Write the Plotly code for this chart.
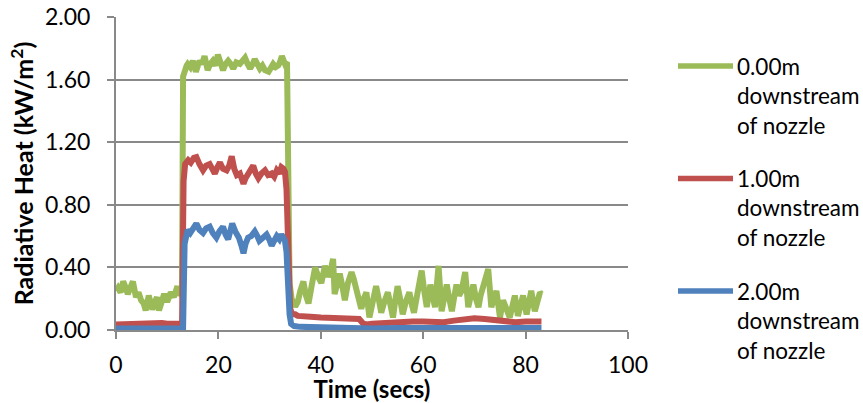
import plotly.graph_objects as go

# ---- data -------------------------------------------------------------
series_names = ["0.00m downstream of nozzle",
                "1.00m downstream of nozzle",
                "2.00m downstream of nozzle"]
series_colors = ["#9BBB59", "#C0504D", "#4F81BD"]

t_0m = [0.0, 0.4, 0.9, 1.4, 1.9, 2.3, 2.8, 3.3, 3.9, 4.4, 4.9, 5.4, 5.8, 6.4, 6.8,
        7.1, 7.6, 8.0, 8.4, 8.9, 9.4, 10.0, 10.7, 11.3, 11.7, 12.0, 12.3, 12.7,
        12.9, 13.1, 13.4, 13.8, 14.0, 14.5, 15.0, 15.6, 16.3, 16.8, 17.3, 17.9,
        18.4, 18.9, 19.4, 19.9, 20.4, 20.9, 21.4, 21.9, 22.4, 22.9, 23.5, 24.2,
        24.7, 25.2, 25.7, 26.2, 26.7, 27.1, 27.6, 28.1, 28.6, 29.1, 29.8, 30.2,
        30.7, 31.2, 31.7, 32.0, 32.4, 33.0, 33.4, 33.9, 34.3, 35.0, 35.5, 36.0,
        36.6, 37.1, 37.6, 38.2, 38.9, 39.5, 40.1, 40.8, 41.4, 41.9, 42.4, 42.7,
        43.2, 43.7, 44.2, 44.7, 45.3, 46.0, 46.4, 46.9, 47.4, 47.9, 48.4, 48.9,
        49.5, 50.1, 50.8, 51.3, 51.8, 52.4, 53.1, 53.6, 54.1, 54.6, 55.0, 55.5,
        56.0, 56.6, 57.3, 57.8, 58.2, 58.8, 59.3, 59.7, 60.2, 60.7, 61.4, 61.9,
        62.3, 62.7, 63.0, 63.6, 64.1, 64.6, 65.1, 65.6, 66.0, 66.5, 67.0, 67.5,
        68.2, 68.8, 69.3, 69.8, 70.3, 70.8, 71.2, 71.7, 72.2, 72.7, 73.3, 73.8,
        74.3, 75.0, 75.6, 76.2, 76.9, 77.4, 77.9, 78.5, 79.0, 79.5, 80.2, 80.6,
        81.1, 81.8, 82.3, 82.8, 83.1]
q_0m = [0.25, 0.27, 0.24, 0.31, 0.27, 0.23, 0.27, 0.31, 0.21, 0.24, 0.19, 0.17,
        0.125, 0.22, 0.17, 0.13, 0.18, 0.21, 0.125, 0.18, 0.23, 0.18, 0.24, 0.21,
        0.25, 0.28, 0.22, 0.25, 0.26, 1.62, 1.67, 1.69, 1.70, 1.68, 1.72, 1.65,
        1.72, 1.70, 1.75, 1.66, 1.70, 1.72, 1.69, 1.76, 1.71, 1.66, 1.70, 1.72,
        1.70, 1.67, 1.71, 1.70, 1.72, 1.74, 1.70, 1.67, 1.70, 1.73, 1.70, 1.67,
        1.69, 1.66, 1.65, 1.68, 1.70, 1.68, 1.69, 1.71, 1.75, 1.70, 1.71, 0.30,
        0.20, 0.15, 0.18, 0.25, 0.31, 0.22, 0.17, 0.28, 0.40, 0.34, 0.30, 0.41,
        0.34, 0.38, 0.455, 0.23, 0.30, 0.36, 0.28, 0.19, 0.30, 0.37, 0.33, 0.27,
        0.20, 0.135, 0.20, 0.24, 0.08, 0.18, 0.28, 0.20, 0.11, 0.18, 0.24, 0.16,
        0.08, 0.20, 0.28, 0.20, 0.10, 0.18, 0.24, 0.16, 0.11, 0.22, 0.30, 0.38,
        0.25, 0.146, 0.29, 0.20, 0.146, 0.30, 0.41, 0.12, 0.22, 0.29, 0.20, 0.12,
        0.20, 0.29, 0.22, 0.25, 0.37, 0.146, 0.22, 0.29, 0.20, 0.146, 0.22, 0.29,
        0.33, 0.39, 0.146, 0.20, 0.25, 0.08, 0.19, 0.14, 0.08, 0.15, 0.22, 0.09,
        0.16, 0.22, 0.10, 0.18, 0.25, 0.12, 0.20, 0.24, 0.23]

t_1m = [0.0, 1.0, 2.0, 3.0, 4.0, 5.0, 6.0, 7.0, 8.0, 9.0, 10.0, 11.0, 12.0, 12.9,
        13.2, 13.5, 14.1, 14.6, 15.2, 15.7, 16.3, 17.0, 17.6, 18.3, 18.8, 19.3,
        19.8, 20.3, 20.9, 21.6, 22.1, 22.6, 23.1, 23.6, 24.2, 24.9, 25.3, 25.8,
        26.3, 26.8, 27.3, 27.8, 28.4, 29.1, 29.7, 30.4, 30.9, 31.4, 31.9, 32.3,
        32.7, 33.0, 33.3, 33.6, 34.0, 34.4, 35.0, 35.5, 36.5, 38.0, 40.0, 42.0,
        44.0, 46.0, 47.5, 48.3, 49.0, 50.0, 52.0, 54.0, 56.0, 58.0, 60.0, 62.0,
        64.0, 66.0, 68.0, 70.0, 72.0, 74.0, 76.0, 78.0, 80.0, 82.0, 83.1]
q_1m = [0.035, 0.037, 0.035, 0.04, 0.04, 0.042, 0.045, 0.043, 0.045, 0.044,
        0.04, 0.042, 0.04, 0.04, 0.95, 1.06, 1.085, 1.07, 1.10, 1.105, 1.06,
        1.02, 1.05, 1.06, 1.03, 1.00, 1.04, 1.07, 1.03, 1.02, 1.05, 1.11, 1.03,
        0.99, 1.00, 0.935, 0.97, 1.00, 1.02, 1.05, 1.00, 0.97, 1.00, 1.02, 0.99,
        1.00, 0.98, 1.02, 1.00, 1.04, 1.03, 1.01, 0.90, 0.40, 0.14, 0.10, 0.10,
        0.09, 0.09, 0.085, 0.08, 0.075, 0.07, 0.065, 0.07, 0.04, 0.035, 0.04,
        0.045, 0.05, 0.05, 0.055, 0.055, 0.05, 0.05, 0.06, 0.07, 0.075, 0.07,
        0.065, 0.055, 0.05, 0.055, 0.055, 0.055]

t_2m = [0.0, 4.0, 8.0, 12.0, 13.1, 13.4, 13.7, 14.0, 14.5, 15.1, 15.7, 16.3, 17.0,
        17.6, 18.3, 18.9, 19.6, 20.2, 20.9, 21.4, 21.9, 22.3, 22.7, 23.3, 24.0,
        24.5, 24.9, 25.3, 25.8, 26.4, 27.1, 27.6, 28.0, 28.7, 29.4, 29.9, 30.4,
        30.9, 31.4, 31.9, 32.3, 32.7, 33.0, 33.3, 33.6, 33.9, 34.2, 34.8, 36.0,
        38.0, 40.0, 45.0, 50.0, 55.0, 60.0, 65.0, 70.0, 75.0, 80.0, 83.1]
q_2m = [0.01, 0.01, 0.01, 0.01, 0.01, 0.55, 0.62, 0.64, 0.62, 0.66, 0.68, 0.64,
        0.62, 0.65, 0.66, 0.62, 0.59, 0.63, 0.66, 0.61, 0.58, 0.63, 0.68, 0.63,
        0.59, 0.54, 0.49, 0.55, 0.59, 0.60, 0.63, 0.60, 0.57, 0.59, 0.61, 0.58,
        0.54, 0.57, 0.60, 0.58, 0.61, 0.59, 0.57, 0.50, 0.25, 0.10, 0.04, 0.025,
        0.02, 0.018, 0.015, 0.012, 0.01, 0.012, 0.012, 0.012, 0.015, 0.012,
        0.012, 0.012]

y_ticks = [0.0, 0.4, 0.8, 1.2, 1.6, 2.0]
x_ticks = [0, 20, 40, 60, 80, 100]

# ---- figure -----------------------------------------------------------
W, H = 863, 403
ML, MR, MT, MB = 116, 235, 17, 73
PW, PH = W - ML - MR, H - MT - MB
FONT = "Lato"
AXIS_GREY = "#898989"


def px_x(px):
    return (px - ML) / PW


def px_y(py):
    return (H - MB - py) / PH


fig = go.Figure()
for t, q, name, color in zip([t_0m, t_1m, t_2m], [q_0m, q_1m, q_2m],
                             series_names, series_colors):
    fig.add_trace(go.Scatter(x=t, y=q, name=name, mode="lines",
                             line=dict(color=color, width=6),
                             showlegend=False))

# legend drawn as wide line samples with wrapped labels
legend_rows = [66, 178.5, 291]
for py, name, color in zip(legend_rows, series_names, series_colors):
    fig.add_shape(type="line", xref="paper", yref="paper",
                  x0=px_x(678), x1=px_x(733), y0=px_y(py), y1=px_y(py),
                  line=dict(color=color, width=5.5))
    head, rest = name.split(" ", 1)
    words = rest.split(" ")
    label = "<br>".join([head, words[0], " ".join(words[1:])])
    fig.add_annotation(xref="paper", yref="paper", x=px_x(735),
                       y=px_y(py + 29.5), xanchor="left", yanchor="middle",
                       align="left", showarrow=False, text=label,
                       font=dict(family=FONT, size=22.5, color="#000000"))

fig.update_layout(
    width=W, height=H,
    margin=dict(l=ML, r=MR, t=MT, b=MB, autoexpand=False),
    paper_bgcolor="white", plot_bgcolor="white",
    font=dict(family=FONT, size=23, color="#000000"),
    xaxis=dict(range=[0, 100], tickvals=x_ticks, showgrid=False,
               zeroline=False, showline=True, linecolor=AXIS_GREY,
               linewidth=2, ticks="outside", ticklen=7, tickwidth=2,
               tickcolor=AXIS_GREY, ticklabelstandoff=6, automargin=False,
               title=dict(text="<b>Time (secs)</b>", standoff=7,
                          font=dict(family=FONT, size=24))),
    yaxis=dict(range=[0, 2.0], tickvals=y_ticks, tickformat=".2f",
               showgrid=True, gridcolor=AXIS_GREY, gridwidth=2,
               zeroline=False, showline=True, linecolor=AXIS_GREY,
               linewidth=2, ticks="outside", ticklen=7, tickwidth=2,
               tickcolor=AXIS_GREY, ticklabelstandoff=12, automargin=False,
               title=dict(text="<b>Radiative Heat (kW/m<sup>2</sup>)</b>",
                          standoff=4, font=dict(family=FONT, size=25))),
)

fig.write_html("out.html")
